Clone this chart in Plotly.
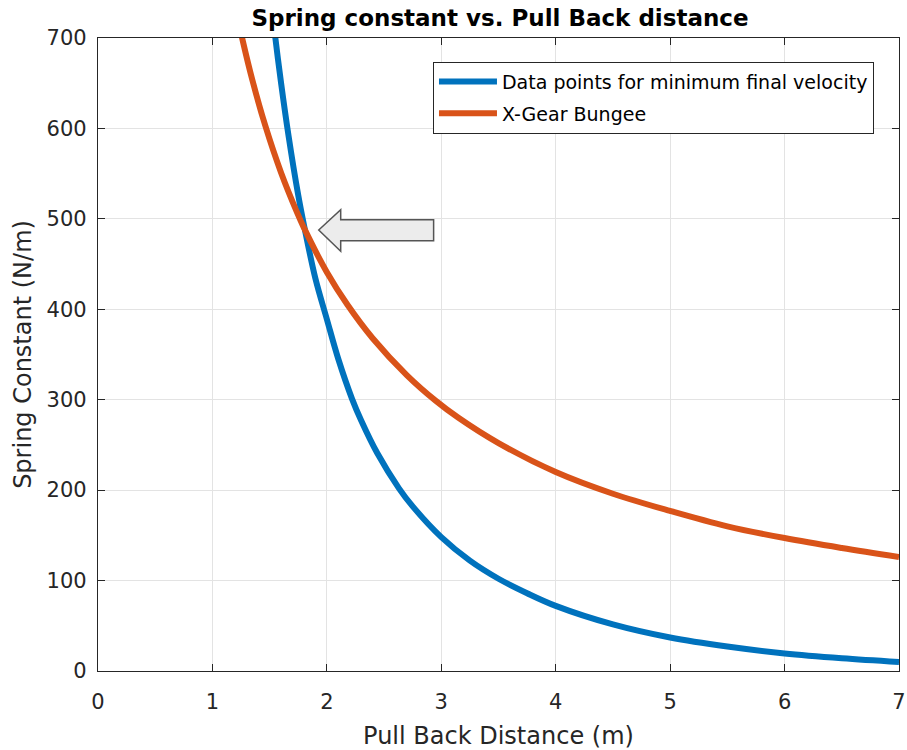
import plotly.graph_objects as go

# Pull-back distance (m) and required spring constant (N/m)
min_vel_x = [1.50, 1.55, 1.60, 1.665, 1.75, 1.80, 1.90, 2.00, 2.10, 2.22, 2.30, 2.44, 2.63, 2.75,
             3.00, 3.25, 3.50, 3.75, 4.00, 4.50, 5.00, 5.50, 6.00, 6.50, 7.00]
min_vel_k = [756, 700, 650, 592, 526, 493, 434, 389, 345, 301, 277, 241, 202, 182,
             148, 122, 102, 86, 72, 51.5, 37, 27, 19.4, 14.1, 10.0]

bungee_x = [1.20, 1.265, 1.35, 1.462, 1.60, 1.743, 1.80, 2.00, 2.18, 2.40, 2.70, 2.95, 3.15,
            3.50, 4.00, 4.50, 5.00, 5.50, 6.00, 6.50, 7.00]
bungee_k = [735, 697, 653, 603, 551, 506, 490, 441, 405, 368, 327, 299, 280,
            252, 220, 196, 177, 160, 147, 136, 126]

series_names = ["Data points for minimum final velocity", "X-Gear Bungee"]
x_ticks = [0, 1, 2, 3, 4, 5, 6, 7]
y_ticks = [0, 100, 200, 300, 400, 500, 600, 700]

BLUE = "#0072BD"
ORANGE = "#D95319"
AXIS = "#262626"
FONT = "DejaVu Sans"

fig = go.Figure()
fig.add_trace(go.Scatter(x=min_vel_x, y=min_vel_k, mode="lines", name=series_names[0],
                         line=dict(color=BLUE, width=6, shape="spline", smoothing=1.0),
                         legendgroup="a"))
fig.add_trace(go.Scatter(x=bungee_x, y=bungee_k, mode="lines", name=series_names[1],
                         line=dict(color=ORANGE, width=6, shape="spline", smoothing=1.0),
                         legendgroup="b"))

# Block arrow pointing at the crossing of the two curves
arrow = [(1.929, 487.6), (2.121, 510.1), (2.121, 499.1), (2.933, 499.1),
         (2.933, 475.9), (2.121, 475.9), (2.121, 464.1)]
path = "M " + " L ".join(f"{px},{py}" for px, py in arrow) + " Z"
fig.add_shape(type="path", path=path, xref="x", yref="y",
              fillcolor="#ececec", line=dict(color="#555555", width=1.5), layer="above")

axis_common = dict(
    showgrid=True, gridcolor="#e3e3e3", gridwidth=1,
    showline=True, linecolor=AXIS, linewidth=1.2, mirror="ticks",
    ticks="inside", ticklen=7, tickwidth=1, tickcolor=AXIS,
    tickfont=dict(family=FONT, size=21, color=AXIS),
    zeroline=False, ticklabeloverflow="allow", automargin=False,
)

fig.update_layout(
    width=907, height=750,
    margin=dict(l=98, r=8, t=38, b=79),
    paper_bgcolor="white", plot_bgcolor="white",
    font=dict(family=FONT, color=AXIS),
    title=dict(text="<b>Spring constant vs. Pull Back distance</b>",
               font=dict(family=FONT, size=23, color="#000000"),
               x=0.5513, xanchor="center", y=1 - 18 / 750, yanchor="middle", yref="container",
               automargin=False),
    xaxis=dict(range=[0, 7], tickvals=x_ticks, ticktext=[str(v) for v in x_ticks],
               ticklabelstandoff=12,
               title=dict(text="Pull Back Distance (m)", font=dict(family=FONT, size=24, color=AXIS), standoff=14),
               **axis_common),
    yaxis=dict(range=[0, 700], tickvals=y_ticks, ticktext=[str(v) for v in y_ticks],
               ticklabelstandoff=6,
               title=dict(text="Spring Constant (N/m)", font=dict(family=FONT, size=24, color=AXIS), standoff=8),
               **axis_common),
    legend=dict(x=0.4182, y=0.9625, xanchor="left", yanchor="top",
                bgcolor="white", bordercolor=AXIS, borderwidth=1,
                font=dict(family=FONT, size=19, color="#000000"),
                itemwidth=58, tracegroupgap=4),
    showlegend=True,
)

fig.write_html("out.html")
